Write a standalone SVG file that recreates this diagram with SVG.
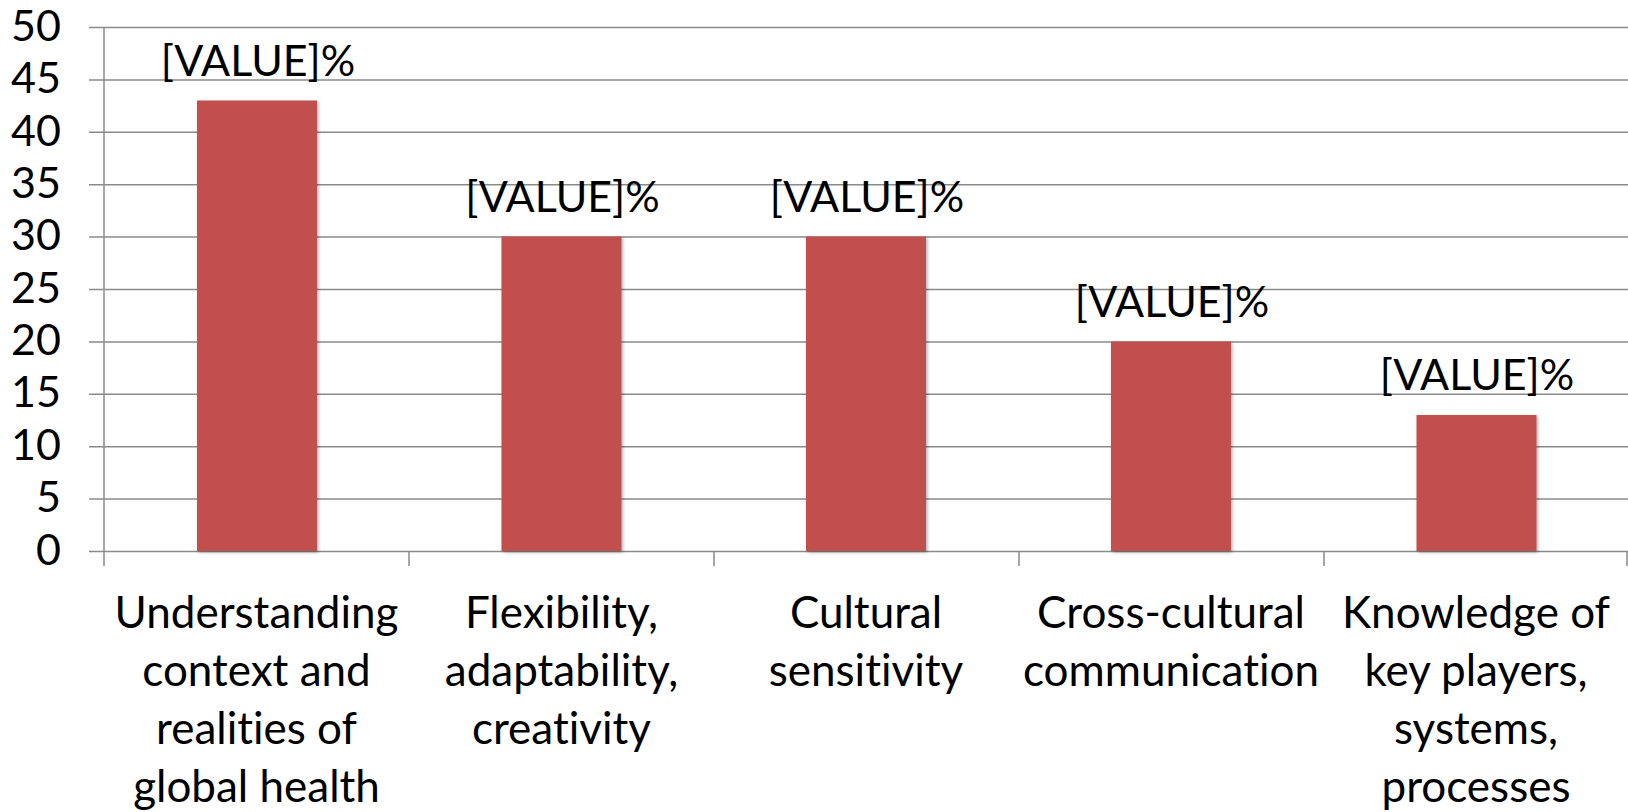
<svg xmlns="http://www.w3.org/2000/svg" width="1628" height="812" viewBox="0 0 1628 812">
<style>
.grid{stroke:#8a8a8a;stroke-width:1.5;fill:none}
.ax{stroke:#8a8a8a;stroke-width:1.5;fill:none}
.bar{fill:#C0504D}
.t{font-family:Lato,"Open Sans",sans-serif;font-size:43px;fill:#000;font-variant-ligatures:none;font-feature-settings:"liga" 0,"clig" 0}
.cat{font-size:44px}
.yl{text-anchor:end}
.c{text-anchor:middle}
</style>
<defs>
<filter id="sh" x="-10%" y="-10%" width="120%" height="120%">
<feDropShadow dx="1.5" dy="1.5" stdDeviation="1.5" flood-color="#000" flood-opacity="0.3"/>
</filter>
</defs>
<rect width="1628" height="812" fill="#fff"/>
<g id="grid">
<path class="grid" d="M89 27.5H1628M89 79.9H1628M89 132.3H1628M89 184.7H1628M89 237.1H1628M89 289.5H1628M89 341.9H1628M89 394.3H1628M89 446.7H1628M89 499.1H1628M89 551.5H1628"/>
<path class="ax" d="M104 27V566M409 551V566M714 551V566M1019 551V566M1324 551V566M1627 551V566"/>
</g>
<g id="yaxis" class="t yl">
<text x="61" y="41">50</text>
<text x="61" y="93">45</text>
<text x="61" y="146">40</text>
<text x="61" y="198">35</text>
<text x="61" y="250">30</text>
<text x="61" y="303">25</text>
<text x="61" y="355">20</text>
<text x="61" y="407">15</text>
<text x="61" y="460">10</text>
<text x="61" y="512">5</text>
<text x="61" y="565">0</text>
</g>
<g id="bar1">
<rect class="bar" x="197" y="100.5" width="120" height="450.5" filter="url(#sh)"/>
<text class="t c" x="258" y="76">[VALUE]%</text>
<text class="t c cat" x="256.5" y="628">Understanding</text>
<text class="t c cat" x="256.5" y="686">context and</text>
<text class="t c cat" x="256.5" y="744">realities of</text>
<text class="t c cat" x="256.5" y="802">global health</text>
</g>
<g id="bar2">
<rect class="bar" x="501.5" y="236.5" width="120" height="314.5" filter="url(#sh)"/>
<text class="t c" x="562.5" y="212">[VALUE]%</text>
<text class="t c cat" x="561.5" y="628">Flexibility,</text>
<text class="t c cat" x="561.5" y="686">adaptability,</text>
<text class="t c cat" x="561.5" y="744">creativity</text>
</g>
<g id="bar3">
<rect class="bar" x="806" y="236.5" width="120" height="314.5" filter="url(#sh)"/>
<text class="t c" x="867" y="212">[VALUE]%</text>
<text class="t c cat" x="866" y="628">Cultural</text>
<text class="t c cat" x="866" y="686">sensitivity</text>
</g>
<g id="bar4">
<rect class="bar" x="1111" y="341.5" width="120" height="209.5" filter="url(#sh)"/>
<text class="t c" x="1172" y="317">[VALUE]%</text>
<text class="t c cat" x="1171" y="628">Cross-cultural</text>
<text class="t c cat" x="1171" y="686">communication</text>
</g>
<g id="bar5">
<rect class="bar" x="1416.5" y="415" width="120" height="136" filter="url(#sh)"/>
<text class="t c" x="1477" y="390">[VALUE]%</text>
<text class="t c cat" x="1476" y="628">Knowledge of</text>
<text class="t c cat" x="1476" y="686">key players,</text>
<text class="t c cat" x="1476" y="744">systems,</text>
<text class="t c cat" x="1476" y="802">processes</text>
</g>
</svg>
